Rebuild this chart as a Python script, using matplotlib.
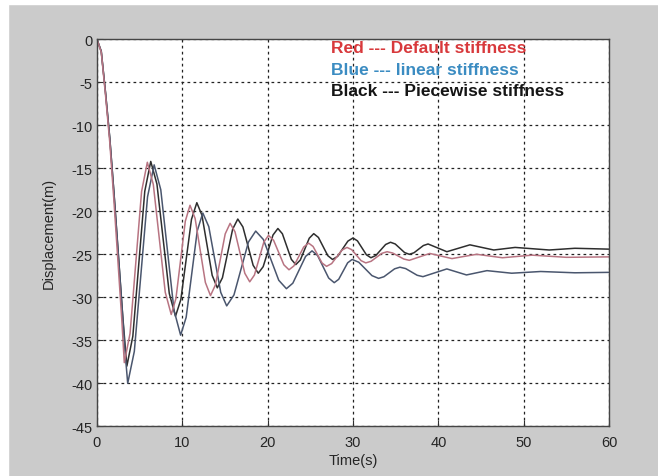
import matplotlib
matplotlib.use("Agg")
import matplotlib.pyplot as plt
from matplotlib.patches import Rectangle

plt.rcParams['font.family'] = ['Liberation Sans', 'DejaVu Sans']
plt.rcParams['axes.unicode_minus'] = False

# red --- default stiffness
t_red = [0, 0.5, 1.0, 1.5, 2.0, 2.5, 2.9, 3.2,
         3.875, 4.55, 5.225, 5.9,
         6.6, 7.3, 8.0, 8.7,
         9.25, 9.8, 10.35, 10.9,
         11.5, 12.1, 12.7, 13.3,
         13.875, 14.45, 15.025, 15.6,
         16.175, 16.75, 17.325, 17.9,
         18.45, 19.0, 19.55, 20.1,
         20.7, 21.3, 21.9, 22.5,
         23.075, 23.65, 24.225, 24.8,
         25.325, 25.85, 26.375, 26.9,
         27.5, 28.1, 28.7, 29.3,
         29.85, 30.4, 30.95, 31.5,
         32.125, 32.75, 33.375, 34.0,
         34.65, 35.3, 35.95, 36.6,
         37.8, 39.0, 40.3, 41.6, 43.0, 44.5, 47.5, 51, 55, 60]
y_red = [0, -1.5, -6.5, -12.0, -19.0, -26.5, -32.5, -37.6,
         -34.2, -25.95, -17.7, -14.3,
         -16.88, -23.15, -29.42, -32.0,
         -30.15, -25.65, -21.15, -19.3,
         -20.83, -24.55, -28.27, -29.8,
         -28.57, -25.6, -22.63, -21.4,
         -22.39, -24.8, -27.21, -28.2,
         -27.41, -25.5, -23.59, -22.8,
         -23.38, -24.8, -26.22, -26.8,
         -26.35, -25.25, -24.15, -23.7,
         -24.09, -25.05, -26.01, -26.4,
         -26.08, -25.3, -24.52, -24.2,
         -24.46, -25.1, -25.74, -26.0,
         -25.81, -25.35, -24.89, -24.7,
         -24.85, -25.2, -25.55, -25.7,
         -25.3, -24.9, -25.2, -25.5, -25.25, -25.0, -25.4, -25.1, -25.35, -25.3]

# blue --- linear stiffness
t_blue = [0, 0.5, 1.0, 1.5, 2.0, 2.5, 3.0, 3.3, 3.6,
          4.375, 5.15, 5.925, 6.7,
          7.475, 8.25, 9.025, 9.8,
          10.45, 11.1, 11.75, 12.4,
          13.1, 13.8, 14.5, 15.2,
          16.05, 16.9, 17.75, 18.6,
          19.5, 20.4, 21.3, 22.2,
          22.95, 23.7, 24.45, 25.2,
          25.85, 26.5, 27.15, 27.8,
          28.325, 28.85, 29.375, 29.9,
          30.675, 31.45, 32.225, 33.0,
          33.625, 34.25, 34.875, 35.5,
          36.175, 36.85, 37.525, 38.2,
          39.6, 41.0, 42.15, 43.3, 44.5, 45.7, 47.15, 48.6, 52, 56, 60]
y_blue = [0, -1.4, -6.2, -11.5, -18.0, -25.0, -32.0, -36.5, -40.0,
          -36.29, -27.3, -18.31, -14.6,
          -17.49, -24.5, -31.51, -34.4,
          -32.33, -27.3, -22.27, -20.2,
          -21.78, -25.6, -29.42, -31.0,
          -29.73, -26.65, -23.57, -22.3,
          -23.28, -25.65, -28.02, -29.0,
          -28.36, -26.8, -25.24, -24.6,
          -25.14, -26.45, -27.76, -28.3,
          -27.91, -26.95, -25.99, -25.6,
          -25.92, -26.7, -27.48, -27.8,
          -27.61, -27.15, -26.69, -26.5,
          -26.66, -27.05, -27.44, -27.6,
          -27.15, -26.7, -27.05, -27.4, -27.15, -26.9, -27.05, -27.2, -27.0, -27.15, -27.1]

# black --- piecewise stiffness
t_black = [0, 0.5, 1.0, 1.5, 2.0, 2.5, 3.0, 3.5,
           4.2, 4.9, 5.6, 6.3,
           7.025, 7.75, 8.475, 9.2,
           9.825, 10.45, 11.075, 11.7,
           12.3, 12.9, 13.5, 14.1,
           14.7, 15.3, 15.9, 16.5,
           17.1, 17.7, 18.3, 18.9,
           19.475, 20.05, 20.625, 21.2,
           21.725, 22.25, 22.775, 23.3,
           23.825, 24.35, 24.875, 25.4,
           25.95, 26.5, 27.05, 27.6,
           28.2, 28.8, 29.4, 30.0,
           30.525, 31.05, 31.575, 32.1,
           32.675, 33.25, 33.825, 34.4,
           34.95, 35.5, 36.05, 36.6,
           37.15, 37.7, 38.25, 38.8,
           39.9, 41.0, 42.35, 43.7, 45.1, 46.5, 47.75, 49, 51, 53, 56, 60]
y_black = [0, -1.4, -6.2, -11.5, -18.0, -25.0, -32.0, -38.0,
           -34.53, -26.1, -17.67, -14.2,
           -16.83, -23.2, -29.57, -32.2,
           -30.27, -25.6, -20.93, -19.0,
           -20.45, -23.95, -27.45, -28.9,
           -27.73, -24.9, -22.07, -20.9,
           -21.82, -24.05, -26.28, -27.2,
           -26.44, -24.6, -22.76, -22.0,
           -22.61, -24.1, -25.59, -26.2,
           -25.67, -24.4, -23.13, -22.6,
           -23.04, -24.1, -25.16, -25.6,
           -25.24, -24.35, -23.47, -23.1,
           -23.44, -24.25, -25.06, -25.4,
           -25.14, -24.5, -23.86, -23.6,
           -23.8, -24.3, -24.8, -25.0,
           -24.82, -24.4, -23.98, -23.8,
           -24.25, -24.7, -24.3, -23.9, -24.2, -24.5, -24.35, -24.2, -24.35, -24.5, -24.3, -24.4]

x_ticks = [0, 10, 20, 30, 40, 50, 60]
y_ticks = [0, -5, -10, -15, -20, -25, -30, -35, -40, -45]

notes = ["Red --- Default stiffness", "Blue --- linear stiffness", "Black --- Piecewise stiffness"]
note_colors = ['#d8393c', '#3b8cc2', '#151515']

fig = plt.figure(figsize=(6.58, 4.77), dpi=100, facecolor='#cbcbcb')
# white screenshot margins
fig.patches.append(Rectangle((0, 0), 8 / 658, 1, transform=fig.transFigure, color='white', zorder=0))
fig.patches.append(Rectangle((0, 1 - 5 / 477), 1, 5 / 477, transform=fig.transFigure, color='white', zorder=0))

ax = fig.add_axes([0.1474, 0.1042, 0.9255 - 0.1474, 0.9155 - 0.1042])
ax.set_facecolor('white')

ax.plot(t_black, y_black, color='#2e2e2e', lw=1.1)
ax.plot(t_blue, y_blue, color='#4a566e', lw=1.1)
ax.plot(t_red, y_red, color='#b87482', lw=1.1)

ax.set_xlim(0, 60)
ax.set_ylim(-45, 0)
ax.set_xticks(x_ticks)
ax.set_yticks(y_ticks)
ax.grid(True, color='#222222', linestyle=(0, (2.2, 2.6)), linewidth=0.9)
ax.tick_params(direction='in', length=4, labelsize=10.5, colors='#303030', labelcolor='#252525')
ax.tick_params(axis='x', pad=6)
for s in ax.spines.values():
    s.set_color('#454545')
    s.set_linewidth(1.0)

ax.set_xlabel('Time(s)', fontsize=10.5, color='#252525', labelpad=3)
ax.set_ylabel('Displacement(m)', fontsize=10.5, color='#252525', labelpad=11)

for i, (txt, c) in enumerate(zip(notes, note_colors)):
    ax.text(27.4, -0.95 - 2.52 * i, txt, color=c, fontsize=12.5, fontweight='bold',
            va='center', ha='left')

fig.savefig('out.png', dpi=100, facecolor=fig.get_facecolor())
